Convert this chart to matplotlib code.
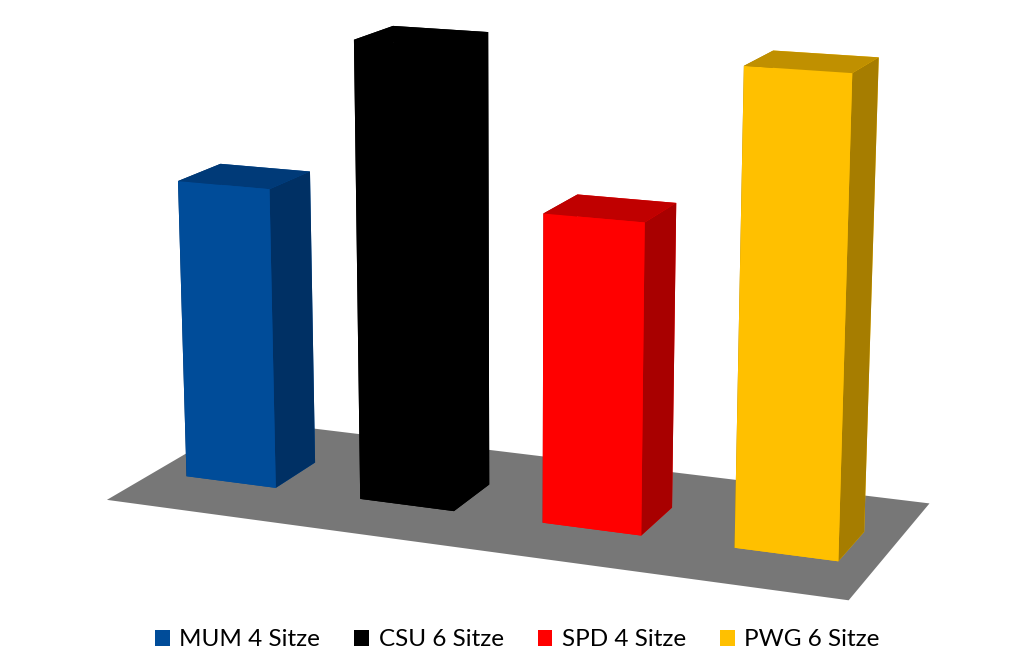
import matplotlib
matplotlib.use('Agg')
import matplotlib.pyplot as plt
from matplotlib.patches import Patch
from mpl_toolkits.mplot3d.art3d import Poly3DCollection
import numpy as np

parties = ['MUM', 'CSU', 'SPD', 'PWG']
seats = [4, 6, 4, 6]
labels = ['MUM 4 Sitze', 'CSU 6 Sitze', 'SPD 4 Sitze', 'PWG 6 Sitze']
front_colors = ['#004C99', '#000000', '#FF0000', '#FFC000']
side_colors = ['#003064', '#000000', '#A80000', '#A67D00']
top_colors = ['#003A78', '#000000', '#C00000', '#C09000']

fig = plt.figure(figsize=(10.35, 6.69), dpi=100)
ax = fig.add_axes([-0.216, -0.236, 1.4, 1.6], projection='3d', computed_zorder=False)
ax.set_proj_type('persp', focal_length=0.5)

x = np.arange(len(parties), dtype=float)
w, d = 0.52, 0.42
facecolors = []
for fc, sc, tc in zip(front_colors, side_colors, top_colors):
    facecolors.extend([fc, tc, fc, fc, sc, sc])

fy0, fy1 = -d / 2 - 0.45, d / 2 + 0.5
floor = Poly3DCollection([[(-0.45, fy0, 0), (3.45, fy0, 0), (3.45, fy1, 0), (-0.45, fy1, 0)]],
                         facecolor='#777777', edgecolor='none', zorder=1)
ax.add_collection3d(floor)
ax.bar3d(x - w / 2, np.full(len(x), -d / 2), np.zeros(len(x)), w, d, seats,
         color=facecolors, shade=False, zorder=2, edgecolor='none')

ax.set_xlim(-0.6, 3.6)
ax.set_ylim(-0.9, 0.9)
ax.set_zlim(0, 6)
ax.set_box_aspect((3.8, 1.8, 2.14), zoom=0.95)
ax.view_init(elev=14, azim=-68)
ax.set_axis_off()

handles = [Patch(facecolor=c, edgecolor='none') for c in front_colors]
fig.legend(handles, labels, loc='lower center', ncol=4, frameon=False,
           prop={'family': 'Lato', 'size': 17.5}, handlelength=0.6, handleheight=0.6,
           handletextpad=0.4, columnspacing=1.4, bbox_to_anchor=(0.5, -0.005))

fig.savefig('out.png', dpi=100)
